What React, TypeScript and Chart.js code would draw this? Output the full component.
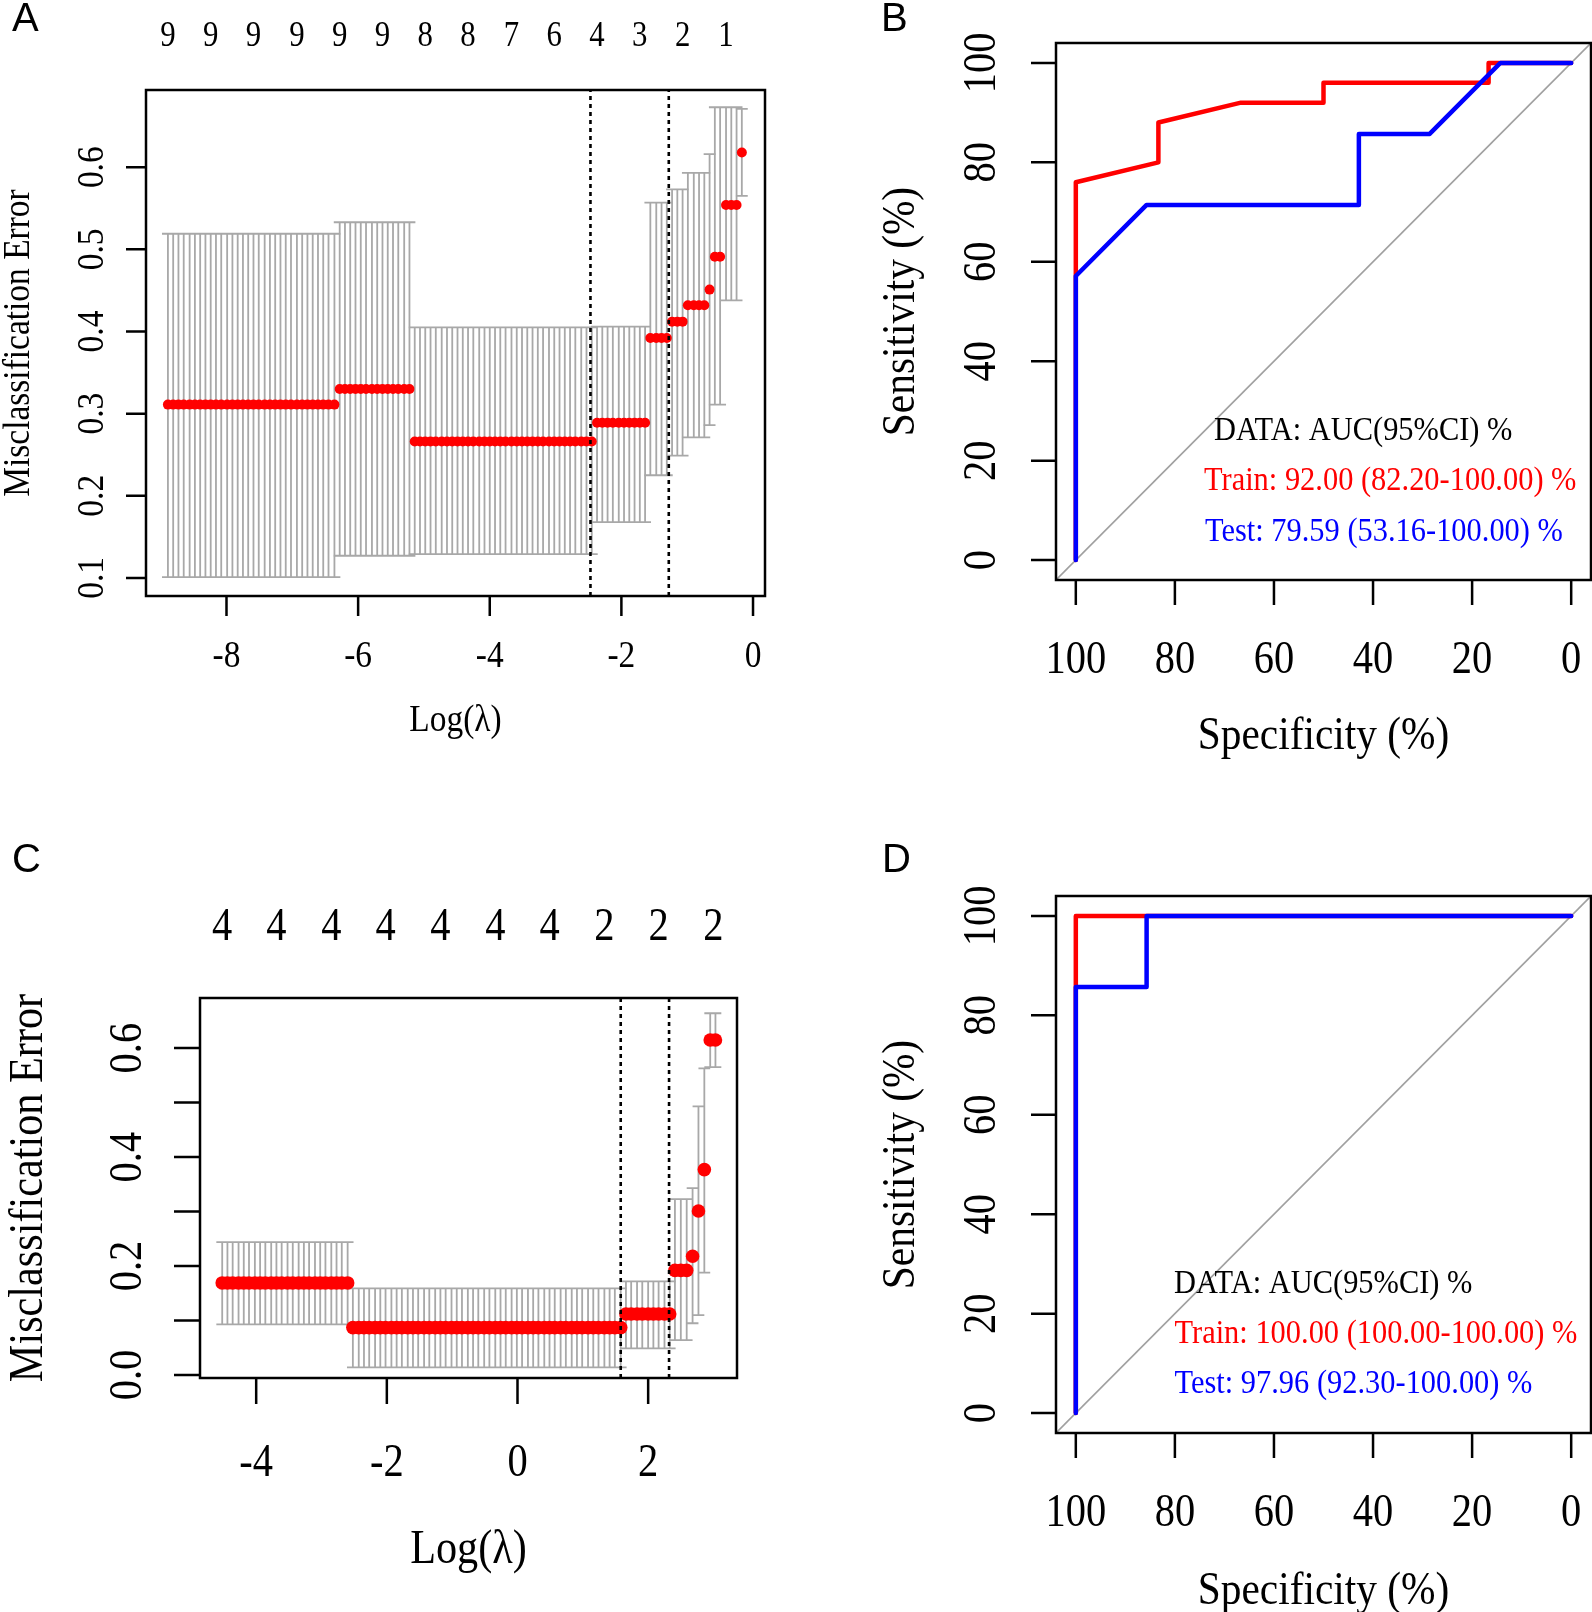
import React, { useEffect, useRef } from 'react';
import { Chart, registerables } from 'chart.js';

Chart.register(...registerables);

// ---------------- Panel A: cross-validation curve (model 1) ----------------
const A_LOG_LAMBDA = [
  -8.89, -8.81, -8.73, -8.65, -8.56, -8.48, -8.40, -8.32, -8.24, -8.16,
  -8.08, -7.99, -7.91, -7.83, -7.75, -7.67, -7.59, -7.51, -7.42, -7.34,
  -7.26, -7.18, -7.10, -7.02, -6.93, -6.85, -6.77, -6.69, -6.61, -6.53,
  -6.45, -6.36, -6.28, -6.20, -6.12, -6.04, -5.96, -5.88, -5.79, -5.71,
  -5.63, -5.55, -5.47, -5.39, -5.30, -5.22, -5.14, -5.06, -4.98, -4.90,
  -4.82, -4.73, -4.65, -4.57, -4.49, -4.41, -4.33, -4.25, -4.16, -4.08,
  -4.00, -3.92, -3.84, -3.76, -3.67, -3.59, -3.51, -3.43, -3.35, -3.27,
  -3.19, -3.10, -3.02, -2.94, -2.86, -2.78, -2.70, -2.61, -2.53, -2.45,
  -2.37, -2.29, -2.21, -2.13, -2.04, -1.96, -1.88, -1.80, -1.72, -1.64,
  -1.56, -1.47, -1.39, -1.31, -1.23, -1.15, -1.07, -0.99, -0.90, -0.82,
  -0.74, -0.66, -0.58, -0.50, -0.41, -0.33, -0.25, -0.17,
];
const A_SEG_COUNT = [32, 14, 34, 10, 4, 3, 4, 1, 2, 3, 1];
const A_SEG_CVM = [0.311, 0.330, 0.266, 0.289, 0.392, 0.412, 0.432, 0.451, 0.491, 0.554, 0.618];
const A_SEG_UPPER = [0.519, 0.533, 0.405, 0.406, 0.557, 0.573, 0.593, 0.616, 0.673, 0.673, 0.671];
const A_SEG_LOWER = [0.101, 0.127, 0.129, 0.168, 0.225, 0.249, 0.271, 0.286, 0.311, 0.438, 0.565];
const A_LAMBDA_MIN = -2.47;
const A_LAMBDA_1SE = -1.28;
const A_TOP_AT = [-8.89, -8.24, -7.59, -6.93, -6.28, -5.63, -4.98, -4.33, -3.67, -3.02, -2.37, -1.72, -1.07, -0.41];
const A_TOP_LABELS = ['9', '9', '9', '9', '9', '9', '8', '8', '7', '6', '4', '3', '2', '1'];
const A_X_TICKS = [-8, -6, -4, -2, 0];
const A_X_LABELS = ['-8', '-6', '-4', '-2', '0'];
const A_Y_TICKS = [0.1, 0.2, 0.3, 0.4, 0.5, 0.6];
const A_Y_LABELS = ['0.1', '0.2', '0.3', '0.4', '0.5', '0.6'];

// ---------------- Panel C: cross-validation curve (model 2) ----------------
const C_LOG_LAMBDA = [
  -4.52, -4.44, -4.36, -4.27, -4.19, -4.11, -4.02, -3.94, -3.86, -3.77,
  -3.69, -3.61, -3.52, -3.44, -3.35, -3.27, -3.19, -3.10, -3.02, -2.94,
  -2.85, -2.77, -2.69, -2.60, -2.52, -2.43, -2.35, -2.27, -2.18, -2.10,
  -2.02, -1.93, -1.85, -1.77, -1.68, -1.60, -1.52, -1.43, -1.35, -1.26,
  -1.18, -1.10, -1.01, -0.93, -0.85, -0.76, -0.68, -0.60, -0.51, -0.43,
  -0.34, -0.26, -0.18, -0.09, -0.01, 0.07, 0.16, 0.24, 0.32, 0.41,
  0.49, 0.57, 0.66, 0.74, 0.83, 0.91, 0.99, 1.08, 1.16, 1.24,
  1.33, 1.41, 1.49, 1.58, 1.66, 1.74, 1.83, 1.91, 2.00, 2.08,
  2.16, 2.25, 2.33, 2.41, 2.50, 2.59, 2.68, 2.77, 2.86, 2.95,
  3.03,
];
const C_SEG_COUNT = [24, 50, 9, 3, 1, 1, 1, 2];
const C_SEG_CVM = [0.169, 0.087, 0.112, 0.192, 0.218, 0.301, 0.377, 0.615];
const C_SEG_UPPER = [0.244, 0.159, 0.172, 0.323, 0.343, 0.493, 0.563, 0.664];
const C_SEG_LOWER = [0.093, 0.014, 0.049, 0.064, 0.095, 0.110, 0.188, 0.565];
const C_LAMBDA_MIN = 1.58;
const C_LAMBDA_1SE = 2.32;
const C_TOP_AT = [-4.52, -3.69, -2.85, -2.02, -1.18, -0.34, 0.49, 1.33, 2.16, 3.0];
const C_TOP_LABELS = ['4', '4', '4', '4', '4', '4', '4', '2', '2', '2'];
const C_X_TICKS = [-4, -2, 0, 2];
const C_X_LABELS = ['-4', '-2', '0', '2'];
const C_Y_TICKS = [0, 0.1, 0.2, 0.3, 0.4, 0.5, 0.6];
const C_Y_LABELS = ['0.0', '', '0.2', '', '0.4', '', '0.6'];

// ---------------- Panel B: ROC (model 1) ----------------
const B_TRAIN_SPEC = [100, 100, 83.33, 83.33, 66.67, 50, 50, 16.67, 16.67, 0];
const B_TRAIN_SENS = [0, 76, 80, 88, 92, 92, 96, 96, 100, 100];
const B_TEST_SPEC = [100, 100, 85.71, 42.86, 42.86, 28.57, 14.29, 0];
const B_TEST_SENS = [0, 57.14, 71.43, 71.43, 85.71, 85.71, 100, 100];
const B_LEGEND = ['DATA: AUC(95%CI) %', 'Train: 92.00 (82.20-100.00) %', 'Test: 79.59 (53.16-100.00) %'];

// ---------------- Panel D: ROC (model 2) ----------------
const D_TRAIN_SPEC = [100, 100, 0];
const D_TRAIN_SENS = [0, 100, 100];
const D_TEST_SPEC = [100, 100, 85.71, 85.71, 0];
const D_TEST_SENS = [0, 85.71, 85.71, 100, 100];
const D_LEGEND = ['DATA: AUC(95%CI) %', 'Train: 100.00 (100.00-100.00) %', 'Test: 97.96 (92.30-100.00) %'];

const ROC_TICKS = [100, 80, 60, 40, 20, 0];
const ROC_TICK_LABELS = ['100', '80', '60', '40', '20', '0'];
const ROC_Y_TICKS = [0, 20, 40, 60, 80, 100];
const ROC_Y_LABELS = ['0', '20', '40', '60', '80', '100'];
const DIAG_SPEC = [104, -4];
const DIAG_SENS = [-4, 104];

// ---------------- styling ----------------
const SERIF = '"Liberation Serif", "Times New Roman", Times, serif';
const SANS = '"Liberation Sans", Arial, Helvetica, sans-serif';
const SX = 0.88;
const RED = '#FF0000';
const BLUE = '#0000FF';
const GREY = '#A8A8A8';

function expand(counts: number[], vals: number[]) {
  const out: number[] = [];
  counts.forEach((c, i) => {
    for (let k = 0; k < c; k++) out.push(vals[i]);
  });
  return out;
}

function txt(ctx: CanvasRenderingContext2D, s: string, x: number, y: number, size: number, o: any = {}) {
  ctx.save();
  ctx.translate(x, y);
  if (o.rotate) ctx.rotate(-Math.PI / 2);
  ctx.scale(o.sx ?? SX, 1);
  ctx.font = `${size}px ${o.family ?? SERIF}`;
  ctx.fillStyle = o.color ?? '#000';
  ctx.textAlign = o.align ?? 'center';
  ctx.textBaseline = 'alphabetic';
  ctx.fillText(s, 0, 0);
  ctx.restore();
}

type Deco = {
  letter: string; letterX: number; letterY: number;
  xTicks: number[]; xLabels: string[]; xLabelY: number;
  yTicks: number[]; yLabels: string[]; yLabelX: number;
  tickLen: number; tickFont: number;
  xTitle: string; xTitleY: number; yTitle: string; yTitleX: number; titleFont: number;
  topAt?: number[]; topLabels?: string[]; topY?: number; topFont?: number;
  legend?: { text: string; color: string; x: number; y: number }[]; legendFont?: number;
};

function decoPlugin(d: Deco) {
  return {
    id: 'deco',
    afterDatasetsDraw(chart: any) {
      const { ctx, chartArea: ca, scales } = chart;
      const xs = scales.x;
      const ys = scales.y;
      ctx.save();
      ctx.strokeStyle = '#000';
      ctx.lineWidth = 2.5;
      ctx.lineCap = 'butt';
      ctx.strokeRect(ca.left, ca.top, ca.right - ca.left, ca.bottom - ca.top);
      ctx.beginPath();
      d.xTicks.forEach((v) => {
        const p = xs.getPixelForValue(v);
        ctx.moveTo(p, ca.bottom);
        ctx.lineTo(p, ca.bottom + d.tickLen);
      });
      d.yTicks.forEach((v) => {
        const p = ys.getPixelForValue(v);
        ctx.moveTo(ca.left, p);
        ctx.lineTo(ca.left - d.tickLen, p);
      });
      ctx.stroke();
      ctx.restore();

      d.xTicks.forEach((v, i) => txt(ctx, d.xLabels[i], xs.getPixelForValue(v), d.xLabelY, d.tickFont));
      d.yTicks.forEach((v, i) => {
        if (d.yLabels[i]) txt(ctx, d.yLabels[i], d.yLabelX, ys.getPixelForValue(v), d.tickFont, { rotate: true });
      });
      const cx = (ca.left + ca.right) / 2;
      const cy = (ca.top + ca.bottom) / 2;
      txt(ctx, d.xTitle, cx, d.xTitleY, d.titleFont);
      txt(ctx, d.yTitle, d.yTitleX, cy, d.titleFont, { rotate: true });
      if (d.topAt && d.topLabels) {
        d.topAt.forEach((v, i) => txt(ctx, d.topLabels![i], xs.getPixelForValue(v), d.topY!, d.topFont!));
      }
      if (d.legend) {
        d.legend.forEach((l) => txt(ctx, l.text, l.x, l.y, d.legendFont!, { align: 'left', color: l.color, sx: 0.895 }));
      }
      txt(ctx, d.letter, d.letterX, d.letterY, 40, { family: SANS, sx: 1, align: 'left' });
    },
  };
}

function baseOptions(padding: any, x: any, y: any) {
  return {
    animation: false,
    responsive: false,
    devicePixelRatio: 1,
    events: [],
    layout: { padding },
    plugins: { legend: { display: false }, tooltip: { enabled: false } },
    scales: {
      x: { type: 'linear', display: false, ...x },
      y: { type: 'linear', display: false, ...y },
    },
  };
}

function cvConfig(p: {
  logLambda: number[]; counts: number[]; cvm: number[]; upper: number[]; lower: number[];
  lmin: number; l1se: number; cap: number; radius: number; padding: any; x: any; y: any; deco: Deco;
}) {
  const cvm = expand(p.counts, p.cvm);
  const up = expand(p.counts, p.upper);
  const lo = expand(p.counts, p.lower);
  const bars: any[] = [];
  const caps: any[] = [];
  const pts: any[] = [];
  p.logLambda.forEach((l, i) => {
    bars.push({ x: l, y: lo[i] }, { x: l, y: up[i] }, { x: l, y: null });
    caps.push({ x: l - p.cap, y: up[i] }, { x: l + p.cap, y: up[i] }, { x: l, y: null });
    caps.push({ x: l - p.cap, y: lo[i] }, { x: l + p.cap, y: lo[i] }, { x: l, y: null });
    pts.push({ x: l, y: cvm[i] });
  });
  const vline = (v: number) => [{ x: v, y: p.y.min }, { x: v, y: p.y.max }];
  const lineDs = { showLine: true, pointRadius: 0, spanGaps: false, fill: false };
  return {
    type: 'scatter',
    data: {
      datasets: [
        { ...lineDs, data: vline(p.lmin), borderColor: '#000', borderWidth: 2.6, borderDash: [4, 4], order: 0 },
        { ...lineDs, data: vline(p.l1se), borderColor: '#000', borderWidth: 2.6, borderDash: [4, 4], order: 0 },
        { data: pts, pointRadius: p.radius, pointBackgroundColor: RED, pointBorderWidth: 0, showLine: false, order: 1 },
        { ...lineDs, data: caps, borderColor: GREY, borderWidth: 1.8, order: 2 },
        { ...lineDs, data: bars, borderColor: GREY, borderWidth: 1.8, order: 3 },
      ],
    },
    options: baseOptions(p.padding, p.x, p.y),
    plugins: [decoPlugin(p.deco)],
  };
}

function rocConfig(p: {
  trainSpec: number[]; trainSens: number[]; testSpec: number[]; testSens: number[];
  padding: any; deco: Deco;
}) {
  const toPts = (xs: number[], ys: number[]) => xs.map((x, i) => ({ x, y: ys[i] }));
  const lineDs = {
    showLine: true, pointRadius: 0, fill: false,
    borderJoinStyle: 'round', borderCapStyle: 'round',
  };
  return {
    type: 'scatter',
    data: {
      datasets: [
        { ...lineDs, data: toPts(p.testSpec, p.testSens), borderColor: BLUE, borderWidth: 4.5, order: 0 },
        { ...lineDs, data: toPts(p.trainSpec, p.trainSens), borderColor: RED, borderWidth: 4.5, order: 1 },
        { ...lineDs, data: toPts(DIAG_SPEC, DIAG_SENS), borderColor: '#A0A0A0', borderWidth: 1.6, borderCapStyle: 'butt', order: 2 },
      ],
    },
    options: baseOptions(p.padding, { min: -4, max: 104, reverse: true }, { min: -4, max: 104 }),
    plugins: [decoPlugin(p.deco)],
  };
}

function Panel(props: { left: number; top: number; width: number; height: number; config: () => any }) {
  const ref = useRef<HTMLCanvasElement>(null);
  useEffect(() => {
    const chart = new Chart(ref.current as HTMLCanvasElement, props.config());
    return () => chart.destroy();
  }, []);
  return (
    <canvas
      ref={ref}
      width={props.width}
      height={props.height}
      style={{ position: 'absolute', left: props.left, top: props.top, width: props.width, height: props.height }}
    />
  );
}

const configA = () =>
  cvConfig({
    logLambda: A_LOG_LAMBDA, counts: A_SEG_COUNT, cvm: A_SEG_CVM, upper: A_SEG_UPPER, lower: A_SEG_LOWER,
    lmin: A_LAMBDA_MIN, l1se: A_LAMBDA_1SE, cap: 0.09, radius: 5,
    padding: { left: 146, right: 35, top: 90, bottom: 184 },
    x: { min: -9.223, max: 0.182 }, y: { min: 0.078, max: 0.694 },
    deco: {
      letter: 'A', letterX: 12, letterY: 31,
      xTicks: A_X_TICKS, xLabels: A_X_LABELS, xLabelY: 667,
      yTicks: A_Y_TICKS, yLabels: A_Y_LABELS, yLabelX: 103,
      tickLen: 20, tickFont: 38,
      xTitle: 'Log(λ)', xTitleY: 731, yTitle: 'Misclassification Error', yTitleX: 28.5, titleFont: 38,
      topAt: A_TOP_AT, topLabels: A_TOP_LABELS, topY: 46, topFont: 35,
    },
  });

const configC = () =>
  cvConfig({
    logLambda: C_LOG_LAMBDA, counts: C_SEG_COUNT, cvm: C_SEG_CVM, upper: C_SEG_UPPER, lower: C_SEG_LOWER,
    lmin: C_LAMBDA_MIN, l1se: C_LAMBDA_1SE, cap: 0.09, radius: 6.8,
    padding: { left: 200, right: 63, top: 218, bottom: 234 },
    x: { min: -4.86, max: 3.36 }, y: { min: -0.0055, max: 0.692 },
    deco: {
      letter: 'C', letterX: 12, letterY: 92,
      xTicks: C_X_TICKS, xLabels: C_X_LABELS, xLabelY: 695.5,
      yTicks: C_Y_TICKS, yLabels: C_Y_LABELS, yLabelX: 141,
      tickLen: 26, tickFont: 46,
      xTitle: 'Log(λ)', xTitleY: 783, yTitle: 'Misclassification Error', yTitleX: 41.5, titleFont: 48,
      topAt: C_TOP_AT, topLabels: C_TOP_LABELS, topY: 160, topFont: 46,
    },
  });

const configB = () =>
  rocConfig({
    trainSpec: B_TRAIN_SPEC, trainSens: B_TRAIN_SENS, testSpec: B_TEST_SPEC, testSens: B_TEST_SENS,
    padding: { left: 256, right: 1, top: 43, bottom: 200 },
    deco: {
      letter: 'B', letterX: 81, letterY: 31,
      xTicks: ROC_TICKS, xLabels: ROC_TICK_LABELS, xLabelY: 673,
      yTicks: ROC_Y_TICKS, yLabels: ROC_Y_LABELS, yLabelX: 195,
      tickLen: 25, tickFont: 46,
      xTitle: 'Specificity (%)', xTitleY: 749, yTitle: 'Sensitivity (%)', yTitleX: 114, titleFont: 47,
      legendFont: 34,
      legend: [
        { text: B_LEGEND[0], color: '#000', x: 414, y: 440 },
        { text: B_LEGEND[1], color: RED, x: 404, y: 490 },
        { text: B_LEGEND[2], color: BLUE, x: 405, y: 540.5 },
      ],
    },
  });

const configD = () =>
  rocConfig({
    trainSpec: D_TRAIN_SPEC, trainSens: D_TRAIN_SENS, testSpec: D_TEST_SPEC, testSens: D_TEST_SENS,
    padding: { left: 256, right: 1, top: 116, bottom: 179 },
    deco: {
      letter: 'D', letterX: 82, letterY: 92,
      xTicks: ROC_TICKS, xLabels: ROC_TICK_LABELS, xLabelY: 746,
      yTicks: ROC_Y_TICKS, yLabels: ROC_Y_LABELS, yLabelX: 195,
      tickLen: 25, tickFont: 46,
      xTitle: 'Specificity (%)', xTitleY: 823.5, yTitle: 'Sensitivity (%)', yTitleX: 114, titleFont: 47,
      legendFont: 34,
      legend: [
        { text: D_LEGEND[0], color: '#000', x: 374, y: 513 },
        { text: D_LEGEND[1], color: RED, x: 374.5, y: 563 },
        { text: D_LEGEND[2], color: BLUE, x: 374.5, y: 613 },
      ],
    },
  });

export default function App() {
  return (
    <div style={{ position: 'absolute', left: 0, top: 0, width: 1592, height: 1612, background: '#fff', overflow: 'hidden' }}>
      <Panel left={0} top={0} width={800} height={780} config={configA} />
      <Panel left={800} top={0} width={792} height={780} config={configB} />
      <Panel left={0} top={780} width={800} height={832} config={configC} />
      <Panel left={800} top={780} width={792} height={832} config={configD} />
    </div>
  );
}
